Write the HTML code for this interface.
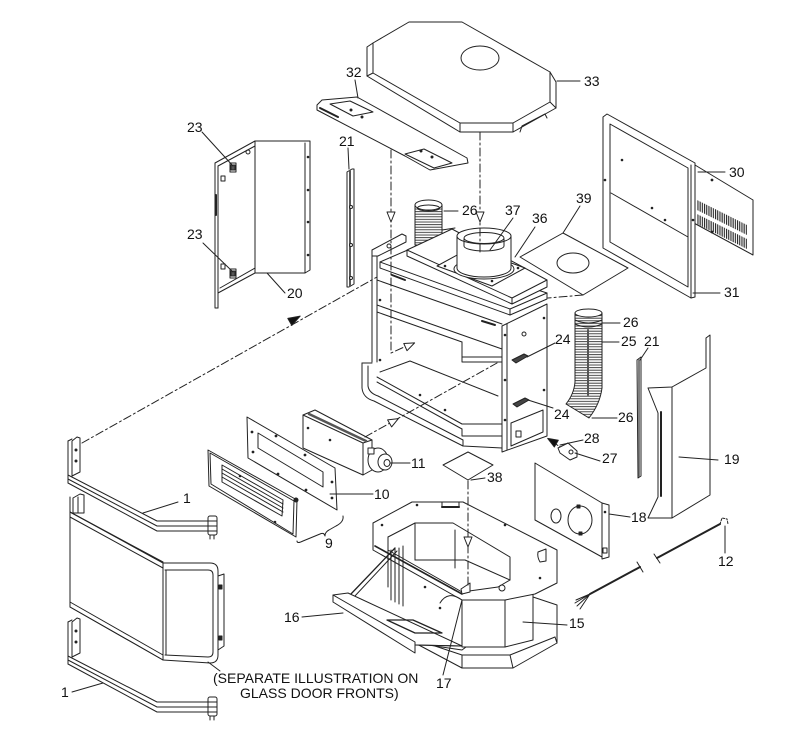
<!DOCTYPE html>
<html><head><meta charset="utf-8"><style>
html,body{margin:0;padding:0;background:#fff;}
svg{display:block;}
text{font-family:"Liberation Sans",Arial,sans-serif;font-size:14px;fill:#111;stroke:none;}
</style></head><body>
<svg width="800" height="748" viewBox="0 0 800 748" xmlns="http://www.w3.org/2000/svg">
<defs>
<pattern id="corr" patternUnits="userSpaceOnUse" width="6" height="2.6"><line x1="0" y1="1" x2="6" y2="1" stroke="#333" stroke-width="0.9"/></pattern>
<pattern id="louv" patternUnits="userSpaceOnUse" width="2.2" height="20"><rect x="0" y="0" width="1.1" height="20" fill="#222"/></pattern>
</defs>
<rect width="800" height="748" fill="#fff"/>
<g fill="none" stroke="#222" stroke-width="1" stroke-linejoin="round" stroke-linecap="round">

<!-- Part 33 top cover -->
<polygon points="367,47 373,43 409,22 462,22 550,72 556,82 556,108 513,132 460,132 367,76" fill="#fff"/>
<polyline points="373,43 373,73 460,123 513,123 550,102 550,72"/>
<line x1="367" y1="76" x2="373" y2="73"/>
<line x1="460" y1="132" x2="460" y2="123"/>
<line x1="513" y1="132" x2="513" y2="123"/>
<line x1="556" y1="108" x2="550" y2="102"/>
<ellipse cx="480" cy="58" rx="19" ry="12"/>
<polyline points="520,132 522,126 545,114 547,118"/>

<!-- Part 32 plate -->
<polygon points="317,105 322,100 357,97 467,158 468,163 430,170 405,156 317,110" fill="#fff"/>
<polygon points="330,104 350,101 373,112 353,116"/>
<polygon points="405,154 424,149 452,163 434,168"/>
<line x1="320" y1="108" x2="338" y2="117" stroke-width="2"/>
<circle cx="351" cy="110" r="1" fill="#222"/>
<circle cx="362" cy="117" r="1" fill="#222"/>
<circle cx="421" cy="151" r="1" fill="#222"/>
<circle cx="432" cy="157" r="1" fill="#222"/>

<!-- Part 20/23 side door -->
<polygon points="215,163 255,141 310,141 310,270 305,273 255,273 218,293 218,308 215,308" fill="#fff"/>
<polyline points="218,308 218,166 255,146"/>
<line x1="255" y1="141" x2="255" y2="273"/>
<line x1="305" y1="143" x2="305" y2="273"/>
<line x1="220" y1="288" x2="255" y2="268"/>
<rect x="230" y="163" width="6" height="9" fill="#fff"/>
<rect x="231" y="165" width="4" height="5" fill="#555"/>
<rect x="230" y="269" width="6" height="9" fill="#fff"/>
<rect x="231" y="271" width="4" height="5" fill="#555"/>
<rect x="221" y="176" width="4" height="5"/>
<rect x="221" y="264" width="4" height="5"/>
<line x1="216" y1="195" x2="216" y2="215" stroke-width="2"/>
<circle cx="248" cy="152" r="2"/>
<circle cx="308" cy="157" r="0.8" fill="#222"/>
<circle cx="308" cy="190" r="0.8" fill="#222"/>
<circle cx="308" cy="222" r="0.8" fill="#222"/>
<circle cx="308" cy="255" r="0.8" fill="#222"/>

<!-- Part 21 left strip -->
<polygon points="347,172 352,169 354,169 354,284 349,287 347,287" fill="#fff"/>
<line x1="350" y1="171" x2="350" y2="286" stroke="#555" stroke-width="2"/>
<circle cx="351" cy="207" r="1.5" fill="#fff"/>
<circle cx="351" cy="245" r="1.5" fill="#fff"/>
<circle cx="351" cy="278" r="1.5" fill="#fff"/>

<!-- Part 26 top pipe -->
<rect x="415" y="205" width="27" height="40" fill="url(#corr)"/>
<ellipse cx="428.5" cy="205" rx="13.5" ry="5" fill="#fff"/>
<ellipse cx="428.5" cy="208" rx="11" ry="3"/>

<!-- Stove top-left flange -->
<polygon points="372,250 402,234 406,236 406,242 378,256 372,256" fill="#fff"/>
<circle cx="389" cy="246" r="2"/>

<!-- Lower top plate -->
<polygon points="380,262 410,249 547,293 547,299 510,315 380,268" fill="#fff"/>
<polyline points="380,262 510,309 547,293"/>
<line x1="510" y1="309" x2="510" y2="315"/>

<!-- Raised top (36) -->
<polygon points="407,250 452,229 547,280 547,287 512,304 407,256" fill="#fff"/>
<polyline points="407,250 512,298 547,280"/>
<line x1="512" y1="298" x2="512" y2="304"/>
<line x1="442" y1="230" x2="455" y2="228"/>
<polygon points="437,266 470,248 525,268 492,286" fill="#fff"/>
<circle cx="445" cy="266" r="0.8" fill="#222"/>
<circle cx="492" cy="281" r="0.8" fill="#222"/>
<circle cx="518" cy="268" r="0.8" fill="#222"/>

<!-- Collar 37 -->
<ellipse cx="484" cy="269" rx="30" ry="10" fill="#fff"/>
<path d="M457,236 L457,268 A27,9 0 0 0 511,268 L511,236 Z" fill="#fff"/>
<ellipse cx="484" cy="236" rx="27" ry="8" fill="#fff"/>
<ellipse cx="484" cy="238" rx="20" ry="5.5"/>
<path d="M464,239 L464,246 A20,5 0 0 0 504,246 L504,239"/>

<!-- Stove body -->
<line x1="372" y1="256" x2="372" y2="362"/>
<line x1="377" y1="256" x2="377" y2="362"/>
<line x1="377" y1="280" x2="502" y2="324"/>
<line x1="377" y1="305" x2="502" y2="349"/>
<line x1="377" y1="312" x2="462" y2="342"/>
<polyline points="462,342 462,362 502,362"/>
<line x1="462" y1="357" x2="502" y2="357"/>
<line x1="380" y1="372" x2="410" y2="361"/>
<line x1="410" y1="361" x2="498" y2="396"/>
<line x1="377" y1="377" x2="462" y2="424"/>
<line x1="377" y1="382" x2="462" y2="429"/>
<line x1="462" y1="424" x2="502" y2="424"/>
<polyline points="462,429 462,436 502,436"/>
<line x1="392" y1="275" x2="405" y2="280" stroke-width="2"/>
<line x1="482" y1="321" x2="495" y2="325" stroke-width="2"/>
<circle cx="380" cy="300" r="0.8" fill="#222"/>
<circle cx="380" cy="360" r="0.8" fill="#222"/>
<circle cx="420" cy="395" r="0.8" fill="#222"/>
<circle cx="445" cy="410" r="0.8" fill="#222"/>

<!-- Right panel -->
<polygon points="502,326 547,304 547,436 502,452" fill="#fff"/>
<line x1="507" y1="324" x2="507" y2="450"/>
<circle cx="524" cy="334" r="2"/>
<circle cx="505" cy="335" r="0.8" fill="#222"/>
<circle cx="505" cy="380" r="0.8" fill="#222"/>
<circle cx="505" cy="420" r="0.8" fill="#222"/>
<circle cx="544" cy="318" r="0.8" fill="#222"/>
<circle cx="544" cy="390" r="0.8" fill="#222"/>
<polygon points="512,360 524,354 528,356 516,363" fill="#444"/>
<polygon points="513,404 525,398 529,400 517,407" fill="#444"/>
<polygon points="511,423 543,410 543,432 511,446"/>
<rect x="516" y="431" width="5" height="6"/>

<!-- Base rim -->
<line x1="362" y1="363" x2="372" y2="363"/>
<path d="M362,363 L362,388 Q363,398 374,401 L463,446 L502,448"/>
<path d="M368,366 L368,386 Q369,393 378,396 L463,440 L463,446"/>

<!-- Part 39 -->
<polygon points="563,233 628,268 583,295 520,257" fill="#fff"/>
<ellipse cx="573" cy="263" rx="16" ry="10"/>

<!-- Part 30 louvered panel -->
<polygon points="695,165 753,200 753,255 692,222" fill="#fff"/>
<polygon points="697,200 747,225 747,235 697,210" fill="url(#louv)" stroke="none"/>
<polygon points="697,214 747,239 747,249 697,224" fill="url(#louv)" stroke="none"/>
<circle cx="712" cy="180" r="0.9" fill="#222"/>
<circle cx="712" cy="232" r="0.9" fill="#222"/>
<!-- Part 31 frame -->
<polygon points="603,117 607,114 695,163 695,297 691,298 603,248" fill="#fff"/>
<polygon points="610,124 688,168 688,287 610,242"/>
<line x1="691" y1="165" x2="691" y2="298"/>
<line x1="611" y1="193" x2="688" y2="237"/>
<circle cx="622" cy="160" r="0.8" fill="#222"/>
<circle cx="652" cy="208" r="0.8" fill="#222"/>
<circle cx="665" cy="220" r="0.8" fill="#222"/>
<circle cx="605" cy="180" r="0.8" fill="#222"/>
<circle cx="693" cy="220" r="0.8" fill="#222"/>

<!-- Part 25/26 flex pipe -->
<path d="M575,313 L575,382 Q574,394 566,404 L589,418 Q600,404 602,388 L602,313 Z" fill="url(#corr)"/>
<ellipse cx="588.5" cy="313" rx="13.5" ry="4" fill="#fff"/>
<path d="M575,320 Q588.5,326 602,320"/>
<path d="M575,324 Q588.5,330 602,324"/>
<line x1="588" y1="330" x2="588" y2="395" stroke="#555" stroke-width="2"/>

<!-- Part 21 right strip -->
<polygon points="637,360 641,357 641,476 638,478" fill="#fff"/>
<line x1="639" y1="360" x2="639" y2="476" stroke="#555" stroke-width="1.5"/>

<!-- Part 19 -->
<polygon points="648,388 672,387 706,368 706,338 710,335 710,495 672,518 648,518 658,497 658,413" fill="#fff"/>
<line x1="672" y1="387" x2="672" y2="518"/>
<line x1="661" y1="412" x2="661" y2="496" stroke-width="2"/>

<!-- Part 18 -->
<polygon points="535,463 602,503 602,557 535,520" fill="#fff"/>
<polygon points="602,503 609,505 609,557 602,559" fill="#fff"/>
<ellipse cx="556" cy="516" rx="5" ry="7"/>
<ellipse cx="580" cy="520" rx="12" ry="14"/>
<rect x="577" y="505" width="3" height="3" fill="#222"/>
<rect x="579" y="532" width="3" height="3" fill="#222"/>
<circle cx="605" cy="512" r="0.8" fill="#222"/>
<rect x="603" y="548" width="4" height="5"/>

<!-- Part 27/28 bracket -->
<polygon points="558,448 568,443 577,451 577,457 570,460 560,453" fill="#fff"/>
<circle cx="571" cy="452" r="2"/>

<!-- Part 12 cable -->
<line x1="657" y1="558" x2="720" y2="524" stroke-width="2"/>
<line x1="654" y1="554" x2="660" y2="563"/>
<line x1="640" y1="567" x2="590" y2="594" stroke-width="2"/>
<line x1="637" y1="562" x2="643" y2="572"/>
<path d="M590,594 L576,600 M590,594 L575,603 M590,594 L577,606 M590,594 L580,609"/>
<path d="M720,524 L722,518 L727,519 L728,524" stroke-dasharray="2 1.5"/>

<!-- Part 38 -->
<polygon points="443,465 468,452 493,465 468,480" fill="#fff"/>

<!-- Part 15 plinth -->
<polygon points="415,643 462,668 513,668 557,643 557,605 533,597 462,650" fill="#fff"/>
<polyline points="417,640 462,655 510,655 555,637"/>
<line x1="462" y1="655" x2="462" y2="668"/>
<line x1="510" y1="655" x2="513" y2="668"/>
<line x1="555" y1="637" x2="557" y2="643"/>
<!-- pedestal body -->
<polygon points="462,598 505,598 505,647 462,647" fill="#fff"/>
<polygon points="505,600 533,592 533,640 505,647" fill="#fff"/>
<!-- top frame -->
<polygon points="373,523 412,502 463,502 557,550 557,583 535,594 505,600 462,600 373,550" fill="#fff"/>
<polygon points="388,537 415,523 453,523 510,557 510,580 498,587 462,592 388,550"/>
<line x1="375" y1="546" x2="462" y2="594" stroke-width="1.6"/>
<line x1="388" y1="537" x2="388" y2="587"/>
<line x1="415" y1="523" x2="415" y2="560"/>
<line x1="415" y1="560" x2="465" y2="560"/>
<line x1="465" y1="560" x2="510" y2="580"/>
<line x1="455" y1="530" x2="455" y2="568"/>
<line x1="350" y1="595" x2="395" y2="548" stroke-width="1.3"/>
<line x1="354" y1="597" x2="397" y2="551"/>
<line x1="391" y1="550" x2="391" y2="600"/>
<line x1="395" y1="549" x2="395" y2="602"/>
<line x1="399" y1="548" x2="399" y2="604"/>
<line x1="403" y1="546" x2="403" y2="606"/>
<path d="M538,552 L546,549 L546,561 L540,562 Q537,557 538,552 Z"/>
<circle cx="502" cy="588" r="3"/>
<polygon points="461,589 470,583 470,592 462,594" fill="#fff"/>
<rect x="442" y="502" width="17" height="5" fill="#fff"/>
<line x1="442" y1="507" x2="459" y2="507" stroke-width="2"/>
<path d="M440,603 Q448,590 462,600"/>
<circle cx="382" cy="525" r="0.8" fill="#222"/>
<circle cx="417" cy="505" r="0.8" fill="#222"/>
<circle cx="505" cy="525" r="0.8" fill="#222"/>
<circle cx="540" cy="578" r="0.8" fill="#222"/>
<circle cx="425" cy="587" r="0.8" fill="#222"/>
<circle cx="440" cy="608" r="0.8" fill="#222"/>
<!-- tray 16 -->
<polygon points="333,595 348,593 462,646 415,645" fill="#fff"/>
<polygon points="333,595 415,642 415,653 333,602" fill="#fff"/>
<line x1="415" y1="645" x2="462" y2="646"/>
<polygon points="387,620 413,620 442,633 415,633" stroke-width="1.3"/>

<!-- Part 10 gasket -->
<polygon points="247,417 335,468 337,510 248,458" fill="#fff"/>
<polygon points="258,433 323,472 323,487 258,448"/>
<circle cx="252" cy="432" r="0.9" fill="#222"/>
<circle cx="276" cy="436" r="0.9" fill="#222"/>
<circle cx="305" cy="455" r="0.9" fill="#222"/>
<circle cx="332" cy="482" r="0.9" fill="#222"/>
<circle cx="332" cy="498" r="0.9" fill="#222"/>
<circle cx="253" cy="452" r="0.9" fill="#222"/>
<circle cx="278" cy="474" r="0.9" fill="#222"/>
<circle cx="306" cy="490" r="0.9" fill="#222"/>
<!-- Part 9 grill -->
<polygon points="208,450 297,500 296,537 209,486" fill="#fff"/>
<polygon points="210,453 294,501 293,534 211,484"/>
<polygon points="222,465 283,500 282,516 222,482" fill="#fff"/>
<line x1="222" y1="469" x2="283" y2="504"/>
<line x1="222" y1="473" x2="283" y2="508"/>
<line x1="222" y1="477" x2="283" y2="512"/>
<circle cx="296" cy="500" r="2" fill="#222"/>
<circle cx="240" cy="476" r="0.8" fill="#222"/>
<circle cx="275" cy="522" r="0.8" fill="#222"/>
<!-- Part 11 blower -->
<polygon points="303,415 315,410 372,440 372,470 363,475 303,448" fill="#fff"/>
<polyline points="303,415 363,443 363,475"/>
<line x1="363" y1="443" x2="372" y2="440"/>
<line x1="309" y1="414" x2="366" y2="441" stroke="#555" stroke-width="2.5"/>
<circle cx="308" cy="428" r="0.8" fill="#222"/>
<circle cx="330" cy="440" r="0.8" fill="#222"/>
<ellipse cx="378" cy="460" rx="10" ry="12" fill="#fff"/>
<ellipse cx="385" cy="462" rx="7" ry="8" fill="#fff"/>
<ellipse cx="387" cy="463" rx="3" ry="3.5"/>
<rect x="368" y="448" width="6" height="6" fill="#fff"/>

<!-- Door front -->
<polygon points="70,512 163,563 163,660 70,607" fill="#fff"/>
<line x1="70" y1="497" x2="70" y2="607"/>
<line x1="70" y1="512" x2="163" y2="562"/>
<line x1="70" y1="517" x2="163" y2="568"/>
<line x1="70" y1="602" x2="163" y2="655"/>
<line x1="70" y1="607" x2="163" y2="660"/>
<polygon points="73,498 80,494 84,495 84,513 73,513" fill="#fff"/>
<line x1="78" y1="497" x2="78" y2="513"/>
<path d="M163,563 L210,563 Q218,563 218,571 L218,655 Q218,663 210,663 L163,660" fill="#fff"/>
<path d="M165,570 L208,570 Q213,570 213,575 L213,652 Q213,657 208,657 L165,655"/>
<line x1="163" y1="563" x2="163" y2="660"/>
<line x1="166" y1="570" x2="166" y2="655"/>
<polygon points="218,576 224,574 224,646 218,650" fill="#fff"/>
<rect x="219" y="585" width="3" height="4" fill="#222"/>
<rect x="219" y="636" width="3" height="4" fill="#222"/>

<!-- Part 1 upper bracket -->
<g id="br">
<polygon points="72,441 77,437 80,438 80,472 72,476" fill="#fff"/>
<line x1="68" y1="441" x2="68" y2="483"/>
<line x1="72" y1="439" x2="68" y2="441"/>
<circle cx="76" cy="450" r="1" fill="#222"/>
<circle cx="76" cy="461" r="1" fill="#222"/>
<polyline points="68,475 157,521 210,521"/>
<polyline points="68,479 157,526 210,526"/>
<polyline points="68,483 157,531 210,531"/>
<rect x="208" y="516" width="9" height="19" rx="2" fill="#fff"/>
<line x1="208" y1="521" x2="217" y2="521"/>
<line x1="208" y1="526" x2="217" y2="526"/>
<line x1="208" y1="531" x2="217" y2="531"/>
<line x1="210" y1="535" x2="210" y2="539"/>
<line x1="214" y1="535" x2="214" y2="539"/>
</g>
<use href="#br" transform="translate(0,181)"/>

<!-- Dash-dot connectors -->
<g stroke-dasharray="8 3 2 3">
<path d="M391,150 L391,353 L413,343"/>
<path d="M480,132 L480,253"/>
<path d="M82,443 L377,277"/>
<path d="M365,437 L497,363"/>
<path d="M583,295 L548,298"/>
<path d="M468,481 L468,588"/>
</g>
<line x1="553" y1="442" x2="560" y2="447" stroke-dasharray="2 2"/>

<!-- Arrowheads -->
<polygon points="387,212 395,212 391,222" fill="#fff"/>
<polygon points="476,212 484,212 480,222" fill="#fff"/>
<polygon points="464,537 472,537 468,547" fill="#fff"/>
<polygon points="414.6,342.9 407,350.7 403.8,343.5" fill="#fff"/>
<polygon points="398.4,418.6 391.6,426.9 387.6,419.9" fill="#fff"/>
<polygon points="300.2,316.1 291.8,325.4 287.8,318.4" fill="#111"/>
<polygon points="547.7,438.4 558.3,440.2 554.3,447" fill="#111"/>

<!-- Leader lines -->
<line x1="557" y1="81" x2="580" y2="81"/>
<line x1="355" y1="80" x2="358" y2="98"/>
<line x1="202" y1="132" x2="233" y2="166"/>
<line x1="203" y1="243" x2="233" y2="272"/>
<line x1="267" y1="273" x2="285" y2="293"/>
<line x1="348" y1="148" x2="349" y2="169"/>
<line x1="444" y1="211" x2="458" y2="211"/>
<line x1="513" y1="218" x2="490" y2="250"/>
<line x1="535" y1="227" x2="515" y2="257"/>
<line x1="580" y1="206" x2="563" y2="233"/>
<line x1="698" y1="172" x2="725" y2="172"/>
<line x1="693" y1="293" x2="720" y2="293"/>
<line x1="602" y1="323" x2="620" y2="323"/>
<line x1="602" y1="342" x2="619" y2="342"/>
<line x1="592" y1="418" x2="617" y2="418"/>
<line x1="648" y1="348" x2="640" y2="360"/>
<line x1="555" y1="343" x2="527" y2="357"/>
<line x1="553" y1="408" x2="528" y2="400"/>
<line x1="560" y1="445" x2="583" y2="440"/>
<line x1="575" y1="453" x2="600" y2="461"/>
<line x1="679" y1="457" x2="718" y2="460"/>
<line x1="609" y1="514" x2="630" y2="517"/>
<line x1="725" y1="526" x2="725" y2="553"/>
<line x1="390" y1="463" x2="410" y2="463"/>
<line x1="330" y1="494" x2="373" y2="494"/>
<line x1="471" y1="480" x2="485" y2="478"/>
<line x1="523" y1="622" x2="567" y2="625"/>
<line x1="302" y1="617" x2="343" y2="613"/>
<line x1="443" y1="675" x2="462" y2="600"/>
<line x1="143" y1="513" x2="178" y2="502"/>
<line x1="72" y1="692" x2="103" y2="683"/>
<line x1="208" y1="662" x2="220" y2="671"/>
<path d="M343,516 Q344,522 336,526 L329,530 Q325,532 325,536 Q324,532 320,534 L303,541 Q297,544 297,541"/>
</g>

<!-- Labels -->
<text x="584" y="86">33</text>
<text x="346" y="77">32</text>
<text x="187" y="132">23</text>
<text x="187" y="239">23</text>
<text x="287" y="298">20</text>
<text x="339" y="146">21</text>
<text x="462" y="215">26</text>
<text x="505" y="215">37</text>
<text x="532" y="223">36</text>
<text x="576" y="203">39</text>
<text x="729" y="177">30</text>
<text x="724" y="297">31</text>
<text x="623" y="327">26</text>
<text x="621" y="346">25</text>
<text x="644" y="346">21</text>
<text x="555" y="344">24</text>
<text x="554" y="419">24</text>
<text x="618" y="422">26</text>
<text x="584" y="443">28</text>
<text x="602" y="463">27</text>
<text x="724" y="464">19</text>
<text x="631" y="522">18</text>
<text x="718" y="566">12</text>
<text x="411" y="468">11</text>
<text x="374" y="499">10</text>
<text x="325" y="548">9</text>
<text x="487" y="482">38</text>
<text x="569" y="628">15</text>
<text x="284" y="622">16</text>
<text x="436" y="688">17</text>
<text x="183" y="503">1</text>
<text x="61" y="697">1</text>
<text x="213" y="683">(SEPARATE ILLUSTRATION ON</text>
<text x="240" y="698">GLASS DOOR FRONTS)</text>
</svg>
</body></html>
